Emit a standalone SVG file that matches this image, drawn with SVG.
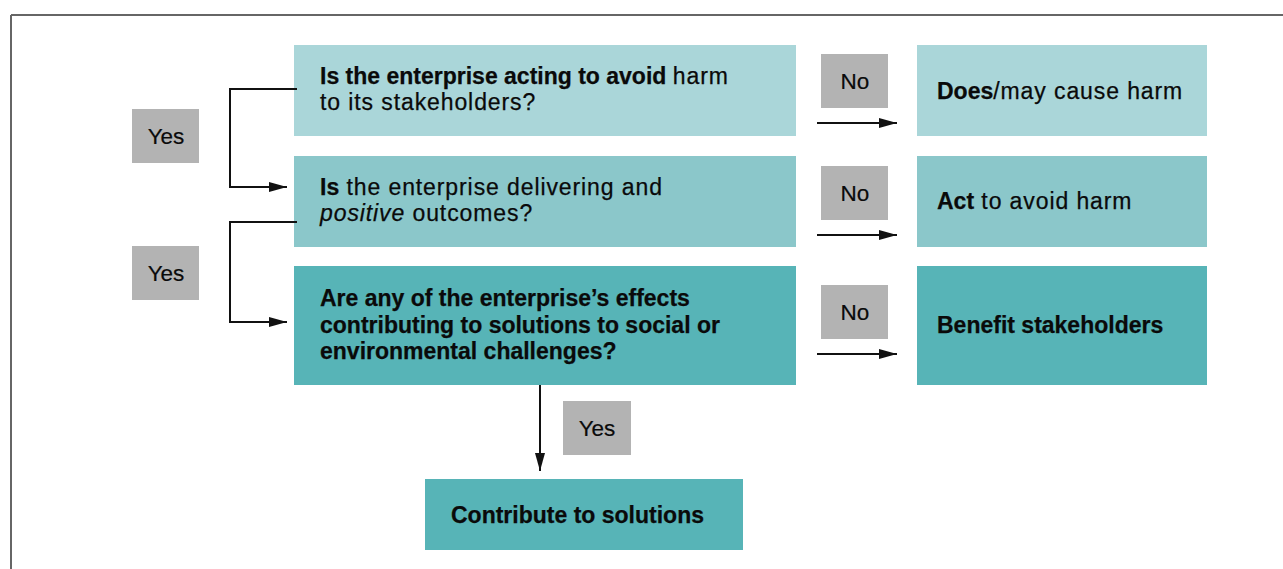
<svg xmlns="http://www.w3.org/2000/svg" width="1283" height="569" viewBox="0 0 1283 569">
  <style>
    .t { font-family: "Liberation Sans", Arial, Helvetica, sans-serif; font-size: 23px; fill: #0a0a0a; stroke: #0a0a0a; stroke-width: 0.25; letter-spacing: 0.9px; }
    .b { font-weight: bold; letter-spacing: 0; }
    .i { font-style: italic; }
    .lbl { font-family: "Liberation Sans", Arial, Helvetica, sans-serif; font-size: 22.5px; fill: #0a0a0a; stroke: #0a0a0a; stroke-width: 0.2; text-anchor: middle; }
    .c1 { fill: #aad6d9; }
    .c2 { fill: #8bc7ca; }
    .c3 { fill: #57b4b7; }
    .tag { fill: #b3b3b3; }
    .wire { fill: none; stroke: #111; stroke-width: 2; }
  </style>
  <defs>
    <marker id="arrow" viewBox="0 0 18 10" refX="18" refY="5" markerWidth="18" markerHeight="10" markerUnits="userSpaceOnUse" orient="auto">
      <path d="M0,0 L18,5 L0,10 Z" fill="#111"/>
    </marker>
  </defs>

  <rect width="1283" height="569" fill="#fff"/>

  <!-- page frame -->
  <g id="frame">
    <line x1="11" y1="15" x2="1283" y2="15" stroke="#333" stroke-width="1.5"/>
    <line x1="11" y1="15" x2="11" y2="569" stroke="#666" stroke-width="2"/>
  </g>

  <!-- question 1 -->
  <g id="q1">
    <rect class="c1" x="294" y="45" width="502" height="91"/>
    <text class="t" x="320" y="84"><tspan class="b">Is the enterprise acting to avoid </tspan>harm</text>
    <text class="t" x="320" y="110">to its stakeholders?</text>
  </g>

  <!-- question 2 -->
  <g id="q2">
    <rect class="c2" x="294" y="156" width="502" height="91"/>
    <text class="t" x="320" y="195"><tspan class="b">Is</tspan> the enterprise delivering and</text>
    <text class="t" x="320" y="221"><tspan class="i">positive</tspan> outcomes?</text>
  </g>

  <!-- question 3 -->
  <g id="q3">
    <rect class="c3" x="294" y="266" width="502" height="119"/>
    <text class="t b" x="320" y="306">Are any of the enterprise’s effects</text>
    <text class="t b" x="320" y="333">contributing to solutions to social or</text>
    <text class="t b" x="320" y="359">environmental challenges?</text>
  </g>

  <!-- outcomes -->
  <g id="r1">
    <rect class="c1" x="917" y="45" width="290" height="91"/>
    <text class="t" x="937" y="99"><tspan class="b">Does</tspan>/may cause harm</text>
  </g>
  <g id="r2">
    <rect class="c2" x="917" y="156" width="290" height="91"/>
    <text class="t" x="937" y="209"><tspan class="b">Act</tspan> to avoid harm</text>
  </g>
  <g id="r3">
    <rect class="c3" x="917" y="266" width="290" height="119"/>
    <text class="t b" x="937" y="333">Benefit stakeholders</text>
  </g>
  <g id="r4">
    <rect class="c3" x="425" y="479" width="318" height="71"/>
    <text class="t b" x="451" y="523">Contribute to solutions</text>
  </g>

  <!-- answer tags -->
  <g id="yes1">
    <rect class="tag" x="132" y="109" width="67" height="54"/>
    <text class="lbl" x="166" y="144">Yes</text>
  </g>
  <g id="yes2">
    <rect class="tag" x="132" y="246" width="67" height="54"/>
    <text class="lbl" x="166" y="281">Yes</text>
  </g>
  <g id="yes3">
    <rect class="tag" x="563" y="401" width="68" height="54"/>
    <text class="lbl" x="597" y="436">Yes</text>
  </g>
  <g id="no1">
    <rect class="tag" x="821" y="54" width="67" height="54"/>
    <text class="lbl" x="855" y="89">No</text>
  </g>
  <g id="no2">
    <rect class="tag" x="821" y="166" width="67" height="54"/>
    <text class="lbl" x="855" y="201">No</text>
  </g>
  <g id="no3">
    <rect class="tag" x="821" y="285" width="67" height="54"/>
    <text class="lbl" x="855" y="320">No</text>
  </g>

  <!-- connectors -->
  <g id="connectors">
    <path class="wire" d="M297,89 H230 V187 H287" marker-end="url(#arrow)"/>
    <path class="wire" d="M297,222 H230 V322 H287" marker-end="url(#arrow)"/>
    <line class="wire" x1="817" y1="123" x2="897" y2="123" marker-end="url(#arrow)"/>
    <line class="wire" x1="817" y1="235" x2="897" y2="235" marker-end="url(#arrow)"/>
    <line class="wire" x1="817" y1="354" x2="897" y2="354" marker-end="url(#arrow)"/>
    <line class="wire" x1="540" y1="385" x2="540" y2="471" marker-end="url(#arrow)"/>
  </g>
</svg>
